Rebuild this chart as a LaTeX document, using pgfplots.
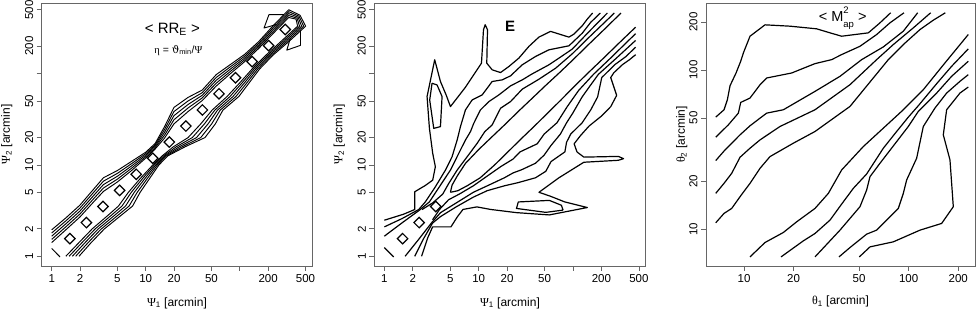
\documentclass[border=0pt]{standalone}
\usepackage{pgfplots}
\usepackage{pgfplotstable}
\pgfplotsset{compat=1.18}
\usepackage{fontspec}
\setmainfont{Liberation Sans}
\newfontfamily\gr{Liberation Serif}
\newfontfamily\grd{DejaVu Serif}

% ---------- panel 1 : upper band lines (lower band = same table, columns swapped)
\pgfplotstableread{
X Y
1 1.950
1.413 2.630
1.995 3.631
2.818 5.495
3.548 7.244
5.012 8.710
7.079 10.96
10 13.80
12.59 17.18
15.85 26.30
19.95 42.66
28.18 54.95
39.81 66.07
56.23 97.72
79.43 125.9
112.2 162.2
158.5 223.9
223.9 331.1
331.1 501.2
436.5 436.5
}\Pa
\pgfplotstableread{
X Y
1 1.799
1.413 2.441
1.995 3.370
2.818 5.070
3.548 6.646
5.012 8.110
7.079 10.35
10 13.30
12.59 16.60
15.85 24.49
19.95 38.46
28.18 50.23
39.81 61.80
56.23 90.99
79.43 118.9
112.2 154.9
158.5 214.3
223.9 315.5
331.1 477.5
426.1 426.1
}\Pb
\pgfplotstableread{
X Y
1 1.660
1.413 2.265
1.995 3.126
2.818 4.677
3.548 6.095
5.012 7.542
7.079 9.772
10 12.81
12.59 16.03
15.85 22.78
19.95 34.67
28.18 45.97
39.81 57.88
56.23 84.66
79.43 112.2
112.2 147.9
158.5 205.4
223.9 300.3
331.1 454.6
415.8 415.8
}\Pc
\pgfplotstableread{
X Y
1 1.531
1.413 2.101
1.995 2.901
2.818 4.315
3.548 5.591
5.012 7.015
7.079 9.226
10 12.33
12.59 15.49
15.85 21.18
19.95 31.26
28.18 42.07
39.81 54.20
56.23 78.70
79.43 105.9
112.2 141.3
158.5 196.8
223.9 285.8
331.1 432.5
405.5 405.5
}\Pd
\pgfplotstableread{
X Y
1 1.413
1.413 1.950
1.995 2.692
2.818 3.981
3.548 5.129
5.012 6.531
7.079 8.710
10 11.89
12.59 14.96
15.85 19.72
19.95 28.18
28.18 38.46
39.81 50.70
56.23 73.28
79.43 100.0
112.2 134.9
158.5 188.4
223.9 272.3
331.1 412.1
395.9 395.9
}\Pe
\pgfplotstableread{
X Y
245 345
181 316
204 442
295 442
}\Pf

% ---------- panel 2 : contours above the diagonal (mirrored below)
\pgfplotstableread{
X Y
1 2.483
1.603 2.891
2.099 3.251
2.099 5.082
2.723 5.970
3.258 6.823
3.475 9.57
3.258 13.40
3.006 25.18
2.838 56.10
3.420 141.9
3.936 82.0
4.519 58.5
5.023 43.6
7.244 71.0
10.71 130.3
11.25 302.7
11.72 343.6
12.41 302.7
12.19 130.3
13.90 110.2
17.06 102.8
20.89 119.7
26.67 147.9
34.06 198.6
43.5 251.2
57.8 290.4
90.6 251.2
102.3 271.0
125.6 335.0
141.9 396.3
161.4 461.3
}\Ea
\pgfplotstableread{
X Y
1 2.099
1.541 2.588
2.315 3.251
2.723 3.945
3.475 5.768
4.446 8.79
5.224 12.30
5.916 18.76
6.412 26.30
7.244 40.09
8.531 51.52
10.89 58.5
12.30 69.2
13.90 82.0
17.75 85.5
21.78 94.6
28.97 125.0
40.09 154.2
55.6 182.4
90.6 201.8
125.6 278.0
153.8 363.9
195.0 461.3
}\Eb
\pgfplotstableread{
X Y
1 1.660
1.541 2.323
2.355 3.199
3.006 3.945
3.936 6.012
5.023 8.79
6.152 13.40
7.244 18.76
8.185 23.17
8.872 28.58
10.45 40.09
12.82 49.43
16.37 58.5
21.78 73.5
28.97 85.5
36.98 99.5
55.6 125.0
70.96 147.9
98.2 185.8
147.6 287.7
231.2 461.3
}\Ec
\pgfplotstableread{
X Y
2.512 3.251
3.258 3.846
4.159 4.797
4.819 6.281
5.916 8.79
7.551 12.30
9.64 17.26
11.61 23.17
13.90 27.42
17.06 41.78
21.78 49.43
28.97 67.6
43.55 86.9
65.5 114.8
98.2 164.8
147.6 249.5
221.8 373.3
274.2 461.3
}\Ed
\pgfplotstableread{
X Y
5.022 5.022
5.224 6.012
5.916 7.551
7.244 10.40
10.05 14.83
13.90 20.42
19.27 28.12
26.67 39.08
36.98 53.8
51.2 74.1
70.96 101.2
98.2 139.3
147.6 210.4
221.8 315.5
322.8 461.3
}\Ee
\pgfplotstableread{
X Y
3.206 78.5
3.622 75.3
4.093 56.1
3.936 26.30
3.342 25.18
3.027 51.52
3.206 78.5
}\El

\pgfplotsset{
  myPanel/.style={
    scale only axis,
    axis line style={black!60, line width=0.8pt},
    tick style={black!60, line width=0.8pt},
    tick align=outside, major tick length=5pt,
    xminorticks=false, yminorticks=false,
    xtick pos=left, ytick pos=left,
    tick label style={font=\fontsize{11.5}{13}\selectfont, black},
    yticklabel style={rotate=90, anchor=south},
    label style={font=\fontsize{12}{14}\selectfont},
    xlabel style={anchor=center},
    ylabel style={anchor=center},
  },
  cLine/.style={black, line width=1.2pt, line join=round, no markers},
  thinLine/.style={black, line width=0.95pt, line join=round, no markers},
  dMark/.style={only marks, mark=square, mark size=3.7pt,
     mark options={rotate=45, black, line width=1.2pt}},
  psiPanel/.style={myPanel,
    xmin=0.783, xmax=590, ymin=0.783, ymax=594,
    xtick={1,2,5,10,20,50,100,200,500},
    xticklabels={1,2,5,10,20,50,,200,500},
    ytick={1,2,5,10,20,50,100,200,500},
    yticklabels={1,2,5,10,20,50,,200,500},
    xlabel={{\gr Ψ}\textsubscript{1} [arcmin]},
    ylabel={{\gr Ψ}\textsubscript{2} [arcmin]},
    xlabel style={at={(axis description cs:0.5,-0.141)}},
    ylabel style={at={(axis description cs:-0.129,0.5)}},
  },
}

\begin{document}
\begin{tikzpicture}
\useasboundingbox (0,0) rectangle (979pt,312pt);

% ================= panel 1
\begin{axis}[xmode=log, ymode=log, psiPanel, at={(41.7pt,46pt)}, anchor=south west, width=270.6pt, height=263pt]
\addplot[thinLine] table[x=X,y=Y] {\Pa};
\addplot[thinLine] table[x=Y,y=X] {\Pa};
\addplot[thinLine] table[x=X,y=Y] {\Pb};
\addplot[thinLine] table[x=Y,y=X] {\Pb};
\addplot[thinLine] table[x=X,y=Y] {\Pc};
\addplot[thinLine] table[x=Y,y=X] {\Pc};
\addplot[thinLine] table[x=X,y=Y] {\Pd};
\addplot[thinLine] table[x=Y,y=X] {\Pd};
\addplot[thinLine] table[x=X,y=Y] {\Pe};
\addplot[thinLine] table[x=Y,y=X] {\Pe};
\addplot[thinLine] table[x=X,y=Y] {\Pf};
\addplot[thinLine] table[x=Y,y=X] {\Pf};
\addplot[thinLine] coordinates {(1,1.22) (1.23,0.98)};
\addplot[dMark] coordinates {(1.56,1.56) (2.34,2.34) (3.51,3.51) (5.27,5.27) (7.91,7.91)
  (11.86,11.86) (17.8,17.8) (26.7,26.7) (40.0,40.0) (60.1,60.1) (90.1,90.1)
  (135.2,135.2) (202.7,202.7) (304.1,304.1)};
\node[font=\fontsize{15}{15}\selectfont] at (rel axis cs:0.483,0.90) {< RR\textsubscript{E} >};
\node[font=\fontsize{10.5}{12}\selectfont] at (rel axis cs:0.505,0.821)
  {{\gr η} = {\grd ϑ}\textsubscript{min}/{\gr Ψ}};
\end{axis}

% ================= panel 2
\begin{axis}[xmode=log, ymode=log, psiPanel, at={(374.3pt,46pt)}, anchor=south west, width=271.4pt, height=263pt]
\addplot[cLine] table[x=X,y=Y] {\Ea};
\addplot[cLine] table[x=Y,y=X] {\Ea};
\addplot[cLine] table[x=X,y=Y] {\Eb};
\addplot[cLine] table[x=Y,y=X] {\Eb};
\addplot[cLine] table[x=X,y=Y] {\Ec};
\addplot[cLine] table[x=Y,y=X] {\Ec};
\addplot[cLine] table[x=X,y=Y] {\Ed};
\addplot[cLine] table[x=Y,y=X] {\Ed};
\addplot[cLine] table[x=X,y=Y] {\Ee};
\addplot[cLine] table[x=Y,y=X] {\Ee};
\addplot[cLine] table[x=X,y=Y] {\El};
\addplot[cLine] table[x=Y,y=X] {\El};
\addplot[cLine] coordinates {(1,1.245) (1.256,0.984)};
\addplot[dMark] coordinates {(1.56,1.56) (2.34,2.34) (3.51,3.51)};
\node[font=\bfseries\fontsize{15}{15}\selectfont] at (rel axis cs:0.50,0.91) {E};
\end{axis}

% ================= panel 3
\begin{axis}[xmode=log, ymode=log, myPanel, at={(706pt,46pt)}, anchor=south west, width=269pt, height=263pt,
   xmin=5.875, xmax=252.9, ymin=5.902, ymax=263,
   xtick={10,20,50,100,200}, xticklabels={10,20,50,100,200},
   ytick={10,20,50,100,200}, yticklabels={10,20,50,100,200},
   xlabel={{\gr θ}\textsubscript{1} [arcmin]},
   ylabel={{\gr θ}\textsubscript{2} [arcmin]},
   xlabel style={at={(axis description cs:0.5,-0.136)}},
   ylabel style={at={(axis description cs:-0.090,0.5)}}]
% upper-left family
\addplot[cLine] coordinates {(6.730,50.62) (7.561,56.30) (7.922,65.09) (8.222,79.71) (8.943,95.74)
 (9.545,113.4) (9.908,127.9) (10.87,162.8) (13.41,191.9) (19.03,188.2) (27.62,181.1)
 (33.29,170.9) (39.17,162.8) (56.88,170.9) (66.95,197.5) (77.71,228.3)};
\addplot[cLine] coordinates {(6.730,37.89) (8.033,45.32) (9.239,53.63) (9.545,62.60) (10.87,66.66)
 (12.51,80.86) (13.73,89.09) (19.47,95.74) (26.98,109.6) (34.07,116.1) (39.17,124.9)
 (50.61,140.8) (63.90,166.8) (77.00,197.5) (93.64,228.3)};
\addplot[cLine] coordinates {(6.730,27.03) (7.667,31.54) (9.456,39.20) (10.87,44.66) (12.51,49.90)
 (13.73,53.63) (17.33,56.30) (26.98,73.42) (38.27,91.24) (51.82,116.1) (70.15,139.5)
 (92.8,175.1) (113.4,228.3)};
\addplot[cLine] coordinates {(6.730,16.84) (7.561,19.47) (8.416,22.50) (9.456,28.37) (10.87,32.32)
 (12.51,36.46) (16.54,44.23) (26.98,56.30) (44.01,80.86) (63.90,116.1) (80.66,144.3)
 (106.7,183.7) (136.0,228.3)};
\addplot[cLine] coordinates {(6.730,11.01) (7.561,12.61) (8.416,13.55) (9.456,16.05) (10.87,19.47)
 (12.51,24.19) (14.38,28.64) (19.93,34.75) (26.98,41.14) (44.01,59.09) (75.23,116.1)
 (92.8,144.3) (117.2,179.3) (141.1,205.2) (166.9,228.3)};
% lower-right family
\addplot[cLine] coordinates {(10.87,6.731) (13.41,8.285) (17.33,9.574) (20.88,11.17) (26.98,13.55)
 (32.52,16.84) (39.17,23.61) (53.04,33.11) (70.15,43.17) (92.8,56.30) (122.7,75.21)
 (166.1,110.7) (230.2,166.8)};
\addplot[cLine] coordinates {(16.78,6.731) (22.93,8.486) (26.98,9.437) (33.29,11.45) (39.17,14.43)
 (46.12,18.11) (55.57,22.28) (70.15,32.32) (84.53,41.14) (99.5,50.62) (114.4,59.67)
 (147.9,82.04) (182.3,105.4) (230.2,135.6)};
\addplot[cLine] coordinates {(26.98,6.731) (38.27,9.904) (50.61,13.89) (55.57,17.68) (58.23,21.44)
 (66.95,26.01) (99.5,44.23) (114.4,54.95) (147.9,71.66) (182.3,91.24) (230.2,113.4)};
\addplot[cLine] coordinates {(37.74,6.731) (44.01,7.705) (55.57,9.348) (63.90,9.904) (86.51,13.55)
 (92.8,16.84) (97.21,20.43) (111.8,27.96) (122.7,44.23) (144.4,57.68) (170.1,71.66)
 (204.9,84.86) (230.2,93.46)};
\addplot[cLine] coordinates {(50.15,6.731) (58.23,7.780) (80.66,8.364) (117.2,9.904) (158.6,10.91)
 (186.7,13.89) (178.2,27.30) (162.3,39.20) (170.1,56.30) (204.9,71.66) (230.2,78.18)};
\node[font=\fontsize{14.5}{15}\selectfont, inner sep=1pt] at (rel axis cs:0.508,0.945)
  {< M\begin{tabular}[c]{@{}l@{}}\fontsize{9.5}{9.5}\selectfont 2\\[-1pt]\fontsize{9.5}{9.5}\selectfont ap\end{tabular} >};
\end{axis}
\end{tikzpicture}
\end{document}
